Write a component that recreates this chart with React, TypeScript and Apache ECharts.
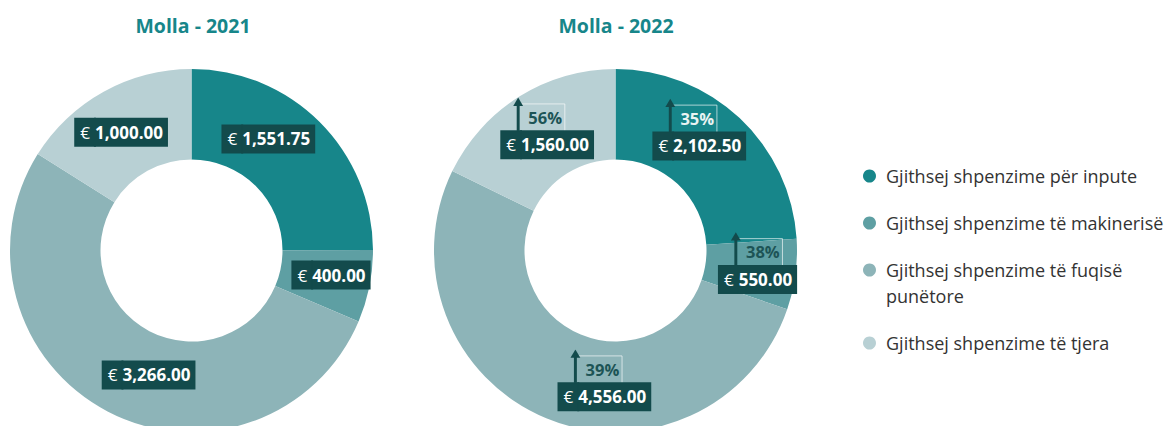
import React, { useEffect, useRef } from 'react';
import * as echarts from 'echarts';

const CATEGORIES = [
  'Gjithsej shpenzime për inpute',
  'Gjithsej shpenzime të makinerisë',
  'Gjithsej shpenzime të fuqisë\npunëtore',
  'Gjithsej shpenzime të tjera',
];
const TITLES = ['Molla - 2021', 'Molla - 2022'];
const VALUES_2021 = [1551.75, 400, 3266, 1000];
const VALUES_2022 = [2102.5, 550, 4556, 1560];
const GROWTH_PCT_2022 = [35, 38, 39, 56];

const COLORS = ['#17868a', '#5e9fa3', '#8db4b8', '#b8d0d4'];
const LABEL_BG = '#134b4c';
const PCT_TEXT = ['#e9f3f3', '#1d5456', '#1d5456', '#1d5456'];
const FONT = '"Open Sans", "Noto Sans", sans-serif';

// label nudges (px) from the default in-ring label position
const SHIFT_2021 = [[-21.5, -13], [3, -3], [21.5, 1], [-3, 3.5]];
const SHIFT_2022 = [[-11.5, -20], [4, -6.5], [42, 0.5], [5.5, -4.7]];

const ARROW_SVG =
  '<svg xmlns="http://www.w3.org/2000/svg" width="55" height="34" viewBox="0 0 55 34">' +
  '<path d="M7 6.5H53.5V34" fill="none" stroke="#ffffff" stroke-opacity="0.65" stroke-width="1"/>' +
  '<rect x="4.5" y="6" width="3" height="28" fill="' + LABEL_BG + '"/>' +
  '<polygon points="1,8.5 6,0 11,8.5" fill="' + LABEL_BG + '"/>' +
  '</svg>';
const ARROW_IMG = 'data:image/svg+xml;charset=utf-8,' + encodeURIComponent(ARROW_SVG);

const fmt = (v: number) =>
  v.toLocaleString('en-US', { minimumFractionDigits: 2, maximumFractionDigits: 2 });

const pctStyle = (color: string) => ({
  fontFamily: FONT,
  fontSize: 16.5,
  fontWeight: 'bold',
  color,
  width: 38,
  height: 28,
  padding: [6, 0, 0, 16],
  align: 'left',
  backgroundColor: { image: ARROW_IMG },
});

const rich: any = {
  e: {
    fontFamily: FONT, fontSize: 17, color: '#ffffff', backgroundColor: LABEL_BG,
    borderColor: LABEL_BG, borderWidth: 1,
    height: 19, padding: [4, 5, 4, 5], align: 'left',
  },
  v: {
    fontFamily: FONT, fontSize: 17, fontWeight: 'bold', color: '#ffffff', backgroundColor: LABEL_BG,
    borderColor: LABEL_BG, borderWidth: 1,
    height: 19, padding: [4, 4, 4, 0], align: 'left',
  },
  sp: { width: 11, fontSize: 10, align: 'left' },
  pl: pctStyle(PCT_TEXT[0]),
  pd: pctStyle(PCT_TEXT[1]),
};

function makePie(values: number[], cx: number, shift: number[][], growth: number[] | null) {
  return {
    type: 'pie',
    center: [cx, 250.5],
    radius: [91, 181.5],
    startAngle: 90,
    clockwise: true,
    silent: true,
    avoidLabelOverlap: false,
    data: values.map((v, i) => ({ name: CATEGORIES[i], value: v, itemStyle: { color: COLORS[i] } })),
    label: {
      show: true,
      position: 'inside',
      textBorderWidth: 0,
      formatter: (p: any) => {
        const i = p.dataIndex;
        const val = '{e|€}{v|' + fmt(values[i]) + '}';
        if (!growth) return val;
        const key = i === 0 ? 'pl' : 'pd';
        return '{sp| }{' + key + '|' + growth[i] + '%}\n' + val;
      },
      rich,
    },
    labelLine: { show: false },
    labelLayout: (p: any) => ({ dx: shift[p.dataIndex][0], dy: shift[p.dataIndex][1] }),
    emphasis: { disabled: true },
  };
}

function legendGraphics() {
  const out: any[] = [];
  let y = 176;
  CATEGORIES.forEach((name, i) => {
    const lines = name.split('\n').length;
    out.push({ type: 'circle', shape: { cx: 869.5, cy: y, r: 6.5 }, style: { fill: COLORS[i] }, silent: true });
    out.push({
      type: 'text', x: 886, y: y - 13, silent: true,
      style: { text: name, font: '18px ' + FONT, fill: '#333333', lineHeight: 26, verticalAlign: 'top', align: 'left' },
    });
    y += lines * 26 + 21;
  });
  return out;
}

export default function App() {
  const ref = useRef<HTMLDivElement>(null);
  useEffect(() => {
    if (!ref.current) return;
    const chart = echarts.init(ref.current, null, { renderer: 'svg' });
    chart.setOption({
      animation: false,
      backgroundColor: '#ffffff',
      series: [
        makePie(VALUES_2021, 191.5, SHIFT_2021, null),
        makePie(VALUES_2022, 615.5, SHIFT_2022, GROWTH_PCT_2022),
      ],
      graphic: [
        ...TITLES.map((t, i) => ({
          type: 'text', x: i === 0 ? 193 : 616, y: 25, silent: true,
          style: { text: t, font: 'bold 19.5px ' + FONT, fill: '#17868a', align: 'center', verticalAlign: 'middle' },
        })),
        ...legendGraphics(),
      ],
    });
    return () => chart.dispose();
  }, []);
  return <div ref={ref} style={{ position: 'absolute', left: 0, top: 0, width: 1166, height: 426 }} />;
}
